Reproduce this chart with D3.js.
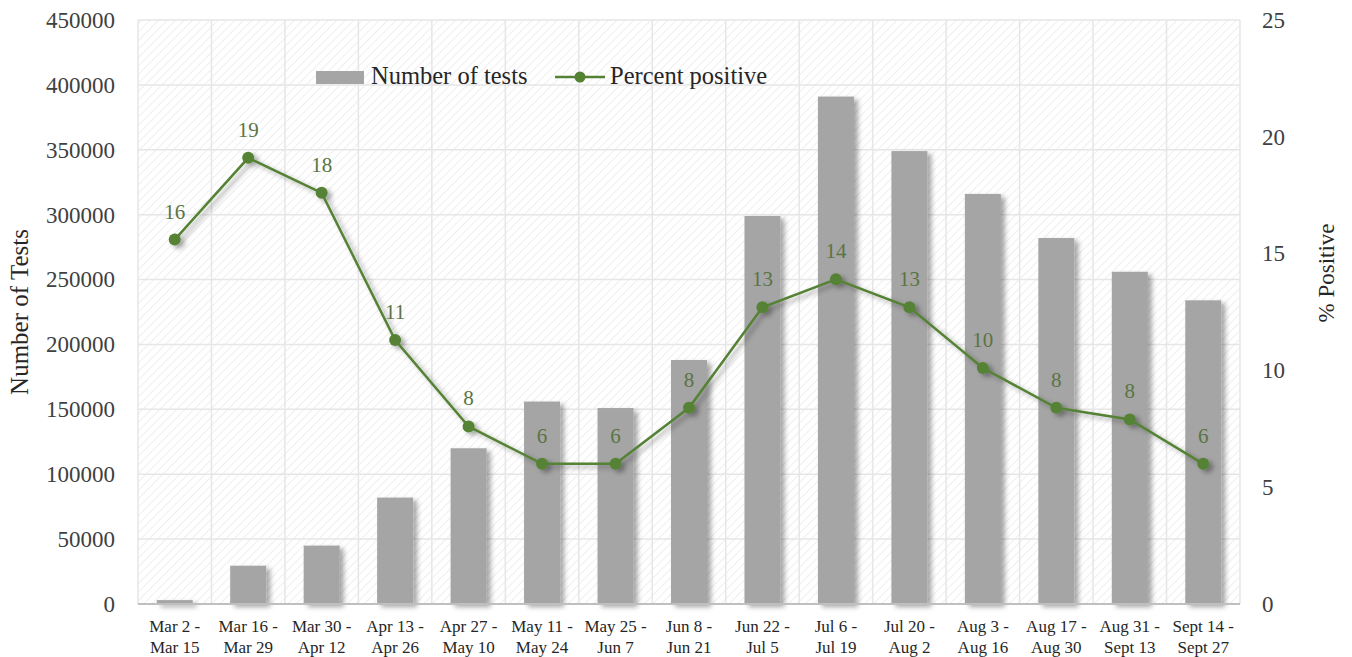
<!DOCTYPE html>
<html>
<head>
<meta charset="utf-8">
<script src="https://cdn.jsdelivr.net/npm/d3@7"></script>
<style>
  html, body { margin: 0; padding: 0; background: #fff; }
  svg { display: block; font-family: "Liberation Serif", "DejaVu Serif", serif; }
</style>
</head>
<body>
<svg id="chart" width="1352" height="657"></svg>
<script>
// Two-week testing periods
const categories = [
  "Mar 2 - Mar 15", "Mar 16 - Mar 29", "Mar 30 - Apr 12", "Apr 13 - Apr 26",
  "Apr 27 - May 10", "May 11 - May 24", "May 25 - Jun 7", "Jun 8 - Jun 21",
  "Jun 22 - Jul 5", "Jul 6 - Jul 19", "Jul 20 - Aug 2", "Aug 3 - Aug 16",
  "Aug 17 - Aug 30", "Aug 31 - Sept 13", "Sept 14 - Sept 27"
];
// Number of tests in each period
const tests = [3000, 29500, 45000, 82000, 120000, 156000, 151000, 188000,
               299000, 391000, 349000, 316000, 282000, 256000, 234000];
// Percent of tests that were positive
const percentPositive = [15.6, 19.1, 17.6, 11.3, 7.6, 6.0, 6.0, 8.4,
                         12.7, 13.9, 12.7, 10.1, 8.4, 7.9, 6.0];
const leftTicks = [0, 50000, 100000, 150000, 200000, 250000, 300000, 350000, 400000, 450000];
const rightTicks = [0, 5, 10, 15, 20, 25];

const svg = d3.select("#chart");
const plot = { left: 138, right: 1240, top: 20, bottom: 604 };

const x = d3.scaleBand().domain(categories)
  .range([plot.left, plot.right]).paddingInner(0.51).paddingOuter(0.255);
const yL = d3.scaleLinear().domain([0, 450000]).range([plot.bottom, plot.top]);
const yR = d3.scaleLinear().domain([0, 25]).range([plot.bottom, plot.top]);

const defs = svg.append("defs");
const hatch = defs.append("pattern").attr("id", "hatch")
  .attr("patternUnits", "userSpaceOnUse").attr("width", 6).attr("height", 6)
  .attr("patternTransform", "rotate(45)");
hatch.append("rect").attr("width", 6).attr("height", 6).attr("fill", "#ffffff");
hatch.append("line").attr("x1", 0).attr("y1", 0).attr("x2", 0).attr("y2", 6)
  .attr("stroke", "#efefef").attr("stroke-width", 2);

const shadow = defs.append("filter").attr("id", "shadow")
  .attr("x", "-20%").attr("y", "-20%").attr("width", "160%").attr("height", "160%");
shadow.append("feDropShadow").attr("dx", 4).attr("dy", 3)
  .attr("stdDeviation", 2.5).attr("flood-color", "#000").attr("flood-opacity", 0.35);

// Plot background
svg.append("rect")
  .attr("x", plot.left).attr("y", plot.top)
  .attr("width", plot.right - plot.left).attr("height", plot.bottom - plot.top)
  .attr("fill", "url(#hatch)");

// Gridlines
const step = x.step();
svg.append("g").selectAll("line").data(d3.range(categories.length + 1)).join("line")
  .attr("x1", i => plot.left + i * step).attr("x2", i => plot.left + i * step)
  .attr("y1", plot.top).attr("y2", plot.bottom)
  .attr("stroke", "#e6e6e6").attr("stroke-width", 1.5);
svg.append("g").selectAll("line").data(leftTicks).join("line")
  .attr("x1", plot.left).attr("x2", plot.right)
  .attr("y1", d => yL(d)).attr("y2", d => yL(d))
  .attr("stroke", "#e6e6e6").attr("stroke-width", 1.5);

// Bars
svg.append("g").attr("filter", "url(#shadow)")
  .selectAll("rect").data(tests).join("rect")
  .attr("x", (d, i) => x(categories[i]))
  .attr("width", x.bandwidth())
  .attr("y", d => yL(d))
  .attr("height", d => yL(0) - yL(d))
  .attr("fill", "#a5a5a5");

// Baseline
svg.append("line")
  .attr("x1", plot.left).attr("x2", plot.right)
  .attr("y1", plot.bottom).attr("y2", plot.bottom)
  .attr("stroke", "#bfbfbf").attr("stroke-width", 2);

// Percent positive line
const cx = (d, i) => x(categories[i]) + x.bandwidth() / 2;
const lineGen = d3.line().x(cx).y(d => yR(d));
const lineG = svg.append("g").attr("filter", "url(#shadow)");
lineG.append("path").datum(percentPositive)
  .attr("d", lineGen).attr("fill", "none")
  .attr("stroke", "#548235").attr("stroke-width", 2.5);
lineG.selectAll("circle").data(percentPositive).join("circle")
  .attr("cx", cx).attr("cy", d => yR(d)).attr("r", 6)
  .attr("fill", "#548235");

// Data labels
svg.append("g").selectAll("text").data(percentPositive).join("text")
  .attr("x", cx).attr("y", d => yR(d) - 21)
  .attr("text-anchor", "middle")
  .attr("font-size", 21).attr("fill", "#5a7444")
  .text(d => d3.format(".0f")(d));

// Left axis
const axL = svg.append("g").attr("transform", `translate(${plot.left},0)`)
  .call(d3.axisLeft(yL).tickValues(leftTicks).tickSize(0).tickPadding(23).tickFormat(d3.format("d")));
axL.select(".domain").remove();
axL.selectAll("text").attr("font-size", 23).attr("fill", "#404040")
  .attr("font-family", "Liberation Serif, serif");

// Right axis
const axR = svg.append("g").attr("transform", `translate(${plot.right},0)`)
  .call(d3.axisRight(yR).tickValues(rightTicks).tickSize(0).tickPadding(22));
axR.select(".domain").remove();
axR.selectAll("text").attr("font-size", 23).attr("fill", "#404040")
  .attr("font-family", "Liberation Serif, serif");

// Bottom axis with two-line category labels
const axB = svg.append("g").attr("transform", `translate(0,${plot.bottom})`)
  .call(d3.axisBottom(x).tickSize(0).tickPadding(0));
axB.select(".domain").remove();
axB.selectAll("text").each(function(d) {
  const parts = d.split(" - ");
  const t = d3.select(this).text(null).attr("dy", null).attr("y", null)
    .attr("font-size", 17).attr("fill", "#262626")
    .attr("font-family", "Liberation Serif, serif");
  t.append("tspan").attr("x", 0).attr("y", 28).text(parts[0] + " -");
  t.append("tspan").attr("x", 0).attr("y", 49).text(parts[1]);
});

// Axis titles
svg.append("text")
  .attr("transform", `translate(28,${(plot.top + plot.bottom) / 2}) rotate(-90)`)
  .attr("text-anchor", "middle").attr("font-size", 25).attr("fill", "#262626")
  .text("Number of Tests");
svg.append("text")
  .attr("transform", `translate(1334,273) rotate(-90)`)
  .attr("text-anchor", "middle").attr("font-size", 23).attr("fill", "#262626")
  .text("% Positive");

// Legend
const legend = svg.append("g");
legend.append("rect").attr("x", 316).attr("y", 71).attr("width", 48).attr("height", 13)
  .attr("fill", "#a5a5a5");
legend.append("text").attr("x", 371).attr("y", 84).attr("font-size", 24.5)
  .attr("fill", "#262626").text("Number of tests");
legend.append("line").attr("x1", 555).attr("x2", 605).attr("y1", 77).attr("y2", 77)
  .attr("stroke", "#548235").attr("stroke-width", 2.5);
legend.append("circle").attr("cx", 580).attr("cy", 77).attr("r", 5.5).attr("fill", "#548235");
legend.append("text").attr("x", 610).attr("y", 84).attr("font-size", 24.5)
  .attr("fill", "#262626").text("Percent positive");
</script>
</body>
</html>
